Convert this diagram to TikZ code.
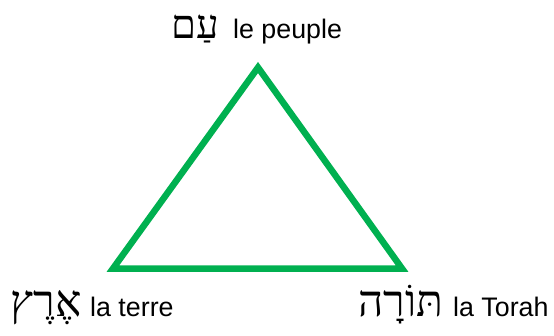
\documentclass[tikz,border=0pt]{standalone}
\usepackage{fontspec}
\setmainfont{Liberation Sans}
\newfontfamily\hebfont[Script=Hebrew]{Liberation Serif}
\TeXXeTstate=1
\definecolor{trigreen}{HTML}{00B050}
\begin{document}
\begin{tikzpicture}[x=1pt,y=1pt,
  heb/.style={anchor=base,inner sep=0pt,font=\hebfont\fontsize{44}{48}\selectfont},
  fr/.style={anchor=base west,inner sep=0pt,font=\fontsize{26.8}{30}\selectfont},
  side/.style={draw=trigreen,line width=6.5pt,line join=miter}]
\useasboundingbox (0,0) rectangle (554,335);
\coordinate (apex) at (258,267.5);
\coordinate (bl) at (113,66.5);
\coordinate (br) at (402,66.5);
\draw[side] (apex) -- (br) -- (bl) -- cycle;
\node[heb,font=\hebfont\fontsize{40}{44}\selectfont] (amheb) at (195,296) {\beginR עַם\endR};
\node[fr] (amfr) at (233,296) {le peuple};
\node[heb] (eretzheb) at (46,19) {\beginR אֶרֶץ\endR};
\node[fr] (eretzfr) at (90,19) {la terre};
\node[heb] (torahheb) at (401,19) {\beginR תּוֹרָה\endR};
\node[fr] (torahfr) at (453,19) {la Torah};
\end{tikzpicture}
\end{document}
